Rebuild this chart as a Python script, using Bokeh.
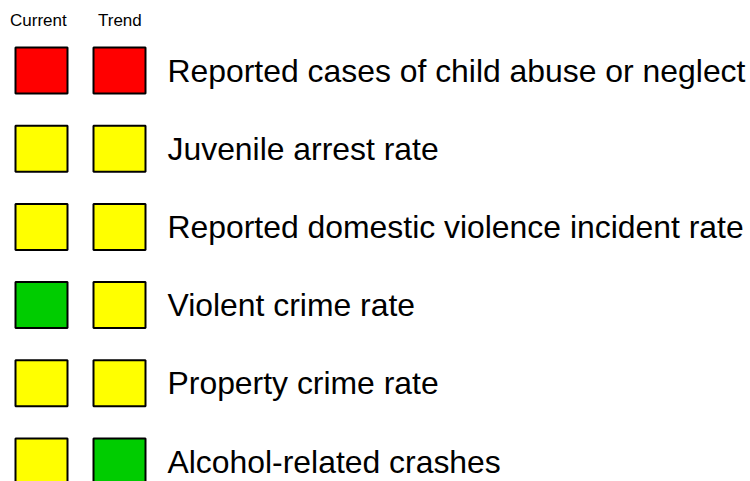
from bokeh.plotting import figure
from bokeh.models import Range1d, ColumnDataSource
from bokeh.core.properties import value
from bokeh.embed import file_html
from bokeh.resources import INLINE

# ---- data ----
indicators = [
    "Reported cases of child abuse or neglect",
    "Juvenile arrest rate",
    "Reported domestic violence incident rate",
    "Violent crime rate",
    "Property crime rate",
    "Alcohol-related crashes",
]
current_status = ["red", "yellow", "yellow", "green", "yellow", "yellow"]
trend_status = ["red", "yellow", "yellow", "yellow", "yellow", "green"]
column_labels = ["Current", "Trend"]

STATUS_COLORS = {"red": "#FF0000", "yellow": "#FFFF00", "green": "#00CC00"}

# ---- layout ----
W, H = 750, 481
TOP = 70.0      # centre of first row (px from top of plot)
STEP = 78.2     # row spacing (px)
COL_X = [41, 119]   # centres of the Current / Trend columns
HDR_X = [9.5, 97.5]
LABEL_X = 167

rows_y = [TOP + STEP * i for i in range(len(indicators))]

p = figure(width=W, height=H, output_backend="svg", toolbar_location=None,
           x_range=Range1d(0, W), y_range=Range1d(H, 0),
           x_axis_location=None, y_axis_location=None, min_border=0)
p.grid.visible = False
p.outline_line_color = None
p.background_fill_color = "white"
p.border_fill_color = "white"

for col_x, statuses in zip(COL_X, [current_status, trend_status]):
    src = ColumnDataSource(dict(
        x=[col_x] * len(statuses),
        y=rows_y,
        color=[STATUS_COLORS[s] for s in statuses],
    ))
    p.rect(x="x", y="y", width=52, height=46, width_units="screen", height_units="screen",
           source=src, fill_color="color", line_color="black", line_width=2)

lab_src = ColumnDataSource(dict(x=[LABEL_X] * len(indicators), y=rows_y, text=indicators))
p.text(x="x", y="y", text="text", source=lab_src, text_font=value("Liberation Sans"),
       text_font_size="31.9px", text_color="#000000", text_baseline="alphabetic",
       text_align="left", y_offset=0)

hdr_src = ColumnDataSource(dict(x=HDR_X, y=[20, 20], text=column_labels))
p.text(x="x", y="y", text="text", source=hdr_src,
       text_font=value("Liberation Sans"),
       text_font_size="17px", text_color="#000000", text_baseline="alphabetic",
       text_align="left")

open("out.html", "w").write(file_html(p, INLINE))
